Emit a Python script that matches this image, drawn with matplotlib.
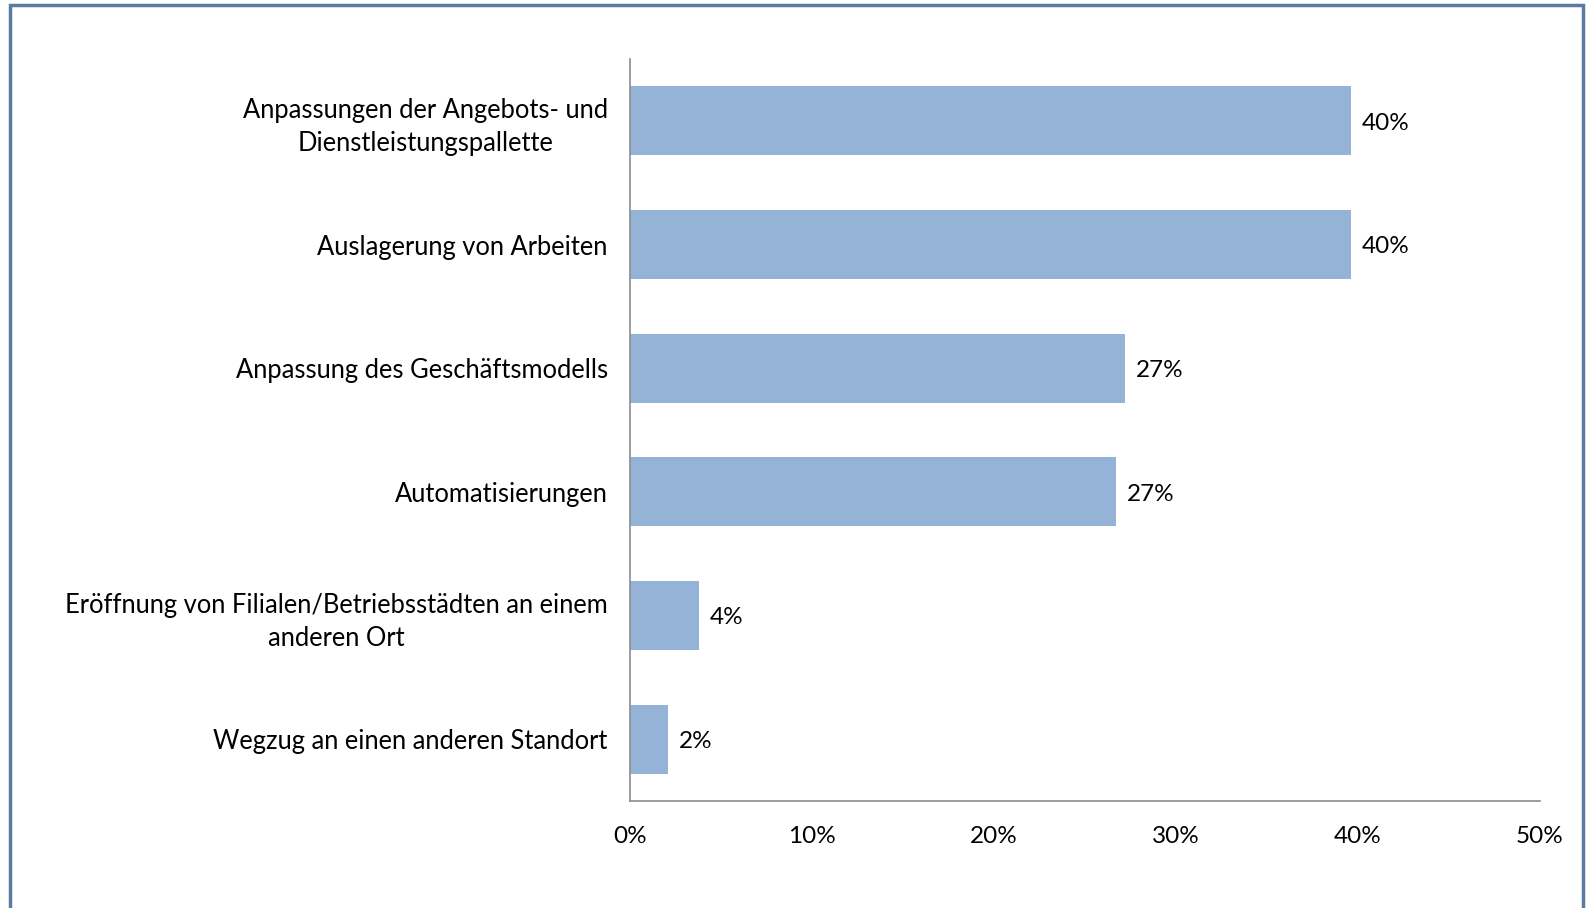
import matplotlib.pyplot as plt
from matplotlib.patches import Rectangle
from matplotlib.ticker import FuncFormatter

plt.rcParams['font.family'] = ['Lato', 'DejaVu Sans']

kategorien = [
    'Anpassungen der Angebots- und\nDienstleistungspallette',
    'Auslagerung von Arbeiten',
    'Anpassung des Geschäftsmodells',
    'Automatisierungen',
    'Eröffnung von Filialen/Betriebsstädten an einem\nanderen Ort',
    'Wegzug an einen anderen Standort',
]
werte = [39.6, 39.6, 27.2, 26.7, 3.8, 2.1]
beschriftung = ['40%', '40%', '27%', '27%', '4%', '2%']

fig = plt.figure(figsize=(15.89, 9.08), dpi=100)
ax = fig.add_axes([630 / 1589, 1 - 801 / 908, 910 / 1589, 742 / 908])

# Rahmen um die ganze Grafik
fig.patches.append(Rectangle((10 / 1589, -0.01), 1573 / 1589, 1 - 5 / 908 + 0.01,
                             transform=fig.transFigure, fill=False,
                             edgecolor='#5b7ba3', linewidth=2.5))

y = list(range(len(kategorien)))
ax.barh(y, werte, height=0.56, color='#95b3d7')
for yi, w, txt in zip(y, werte, beschriftung):
    ax.text(w + 0.6, yi + 0.02, txt, va='center', ha='left', fontsize=17.5, color='black')

ax.set_yticks(y)
ax.set_yticklabels(kategorien, fontsize=18.4, linespacing=1.4, multialignment='center')
ax.set_ylim(len(kategorien) - 0.5, -0.5)
ax.set_xlim(0, 50)
ax.set_xticks([0, 10, 20, 30, 40, 50])
ax.xaxis.set_major_formatter(FuncFormatter(lambda v, p: f'{v:.0f}%'))
ax.tick_params(axis='x', labelsize=17.5, length=0, pad=18)
ax.tick_params(axis='y', length=0, pad=16)

for s in ['top', 'right']:
    ax.spines[s].set_visible(False)
for s in ['left', 'bottom']:
    ax.spines[s].set_color('#8c8c8c')
    ax.spines[s].set_linewidth(1.2)

fig.savefig('out.png', dpi=100)
